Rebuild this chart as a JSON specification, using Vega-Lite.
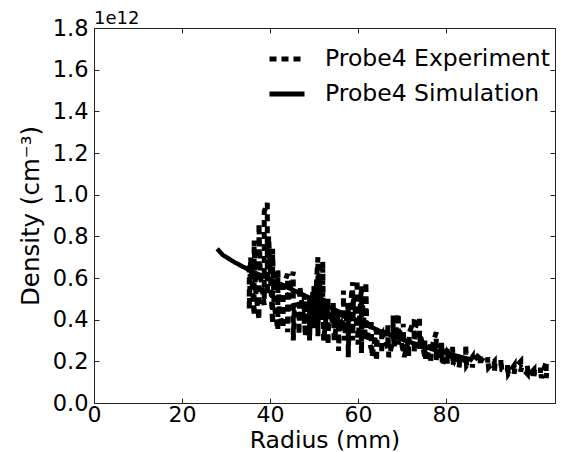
{
  "$schema": "https://vega.github.io/schema/vega-lite/v6.json",
  "width": 461,
  "height": 375,
  "autosize": {"type": "none"},
  "padding": {"left": 94, "top": 28, "right": 8, "bottom": 49},
  "background": "white",
  "config": {
    "font": "DejaVu Sans",
    "view": {"stroke": "#222", "strokeWidth": 1},
    "axis": {
      "grid": false,
      "domain": false,
      "tickColor": "#222",
      "labelColor": "black",
      "titleColor": "black",
      "labelFontSize": 22.5,
      "titleFontSize": 24.5,
      "titleFontWeight": "normal",
      "labelFlush": false,
      "labelOverlap": false
    }
  },
  "title": {"text": "1e12", "anchor": "start", "frame": "group", "fontSize": 18, "fontWeight": "normal", "offset": -11, "color": "black"},
  "datasets": {
    "exp": [
      {"radius": 35.3, "density": 0.66}, {"radius": 35.3, "density": 0.45}, {"radius": 35.6, "density": 0.70},
      {"radius": 36.4, "density": 0.42}, {"radius": 36.4, "density": 0.78}, {"radius": 36.7, "density": 0.55},
      {"radius": 37.5, "density": 0.40}, {"radius": 37.5, "density": 0.86}, {"radius": 37.8, "density": 0.62},
      {"radius": 38.7, "density": 0.47}, {"radius": 38.7, "density": 0.92},
      {"radius": 39.4, "density": 0.96}, {"radius": 39.4, "density": 0.52}, {"radius": 39.7, "density": 0.80},
      {"radius": 40.6, "density": 0.38}, {"radius": 40.6, "density": 0.74}, {"radius": 40.9, "density": 0.48},
      {"radius": 41.8, "density": 0.35}, {"radius": 41.8, "density": 0.64}, {"radius": 42.1, "density": 0.44},
      {"radius": 43.0, "density": 0.36}, {"radius": 43.0, "density": 0.56},
      {"radius": 44.0, "density": 0.62}, {"radius": 44.0, "density": 0.34}, {"radius": 44.3, "density": 0.52},
      {"radius": 45.3, "density": 0.63}, {"radius": 45.3, "density": 0.30}, {"radius": 45.6, "density": 0.48},
      {"radius": 46.6, "density": 0.42}, {"radius": 46.6, "density": 0.33}, {"radius": 46.8, "density": 0.56},
      {"radius": 47.8, "density": 0.38}, {"radius": 47.8, "density": 0.52}, {"radius": 48.0, "density": 0.32},
      {"radius": 49.0, "density": 0.50}, {"radius": 49.0, "density": 0.30}, {"radius": 49.2, "density": 0.46},
      {"radius": 50.0, "density": 0.56}, {"radius": 50.0, "density": 0.36},
      {"radius": 50.9, "density": 0.70}, {"radius": 50.9, "density": 0.32}, {"radius": 51.1, "density": 0.62},
      {"radius": 52.0, "density": 0.40}, {"radius": 52.0, "density": 0.68}, {"radius": 52.2, "density": 0.30},
      {"radius": 53.2, "density": 0.50}, {"radius": 53.2, "density": 0.28}, {"radius": 53.4, "density": 0.44},
      {"radius": 54.4, "density": 0.38}, {"radius": 54.4, "density": 0.48}, {"radius": 54.6, "density": 0.30},
      {"radius": 55.6, "density": 0.44}, {"radius": 55.6, "density": 0.25}, {"radius": 55.8, "density": 0.40},
      {"radius": 56.7, "density": 0.38}, {"radius": 56.7, "density": 0.54}, {"radius": 56.9, "density": 0.30},
      {"radius": 57.8, "density": 0.48}, {"radius": 57.8, "density": 0.22}, {"radius": 58.0, "density": 0.40},
      {"radius": 58.8, "density": 0.58}, {"radius": 58.8, "density": 0.30}, {"radius": 59.0, "density": 0.52},
      {"radius": 59.8, "density": 0.36}, {"radius": 59.8, "density": 0.59}, {"radius": 60.0, "density": 0.28},
      {"radius": 60.8, "density": 0.56}, {"radius": 60.8, "density": 0.24}, {"radius": 61.0, "density": 0.48},
      {"radius": 61.8, "density": 0.30}, {"radius": 61.8, "density": 0.58}, {"radius": 62.0, "density": 0.36},
      {"radius": 63.0, "density": 0.26}, {"radius": 63.0, "density": 0.40}, {"radius": 63.2, "density": 0.22},
      {"radius": 64.2, "density": 0.35}, {"radius": 64.2, "density": 0.20}, {"radius": 64.4, "density": 0.30},
      {"radius": 65.4, "density": 0.33}, {"radius": 65.4, "density": 0.24}, {"radius": 65.6, "density": 0.36},
      {"radius": 66.8, "density": 0.26}, {"radius": 66.8, "density": 0.38}, {"radius": 67.0, "density": 0.22},
      {"radius": 68.0, "density": 0.30}, {"radius": 68.0, "density": 0.42}, {"radius": 68.2, "density": 0.26},
      {"radius": 69.2, "density": 0.43}, {"radius": 69.2, "density": 0.28}, {"radius": 69.4, "density": 0.36},
      {"radius": 70.3, "density": 0.24}, {"radius": 70.3, "density": 0.38}, {"radius": 70.5, "density": 0.22},
      {"radius": 71.5, "density": 0.30}, {"radius": 71.5, "density": 0.22}, {"radius": 71.7, "density": 0.34},
      {"radius": 72.8, "density": 0.40}, {"radius": 72.8, "density": 0.24}, {"radius": 73.0, "density": 0.36},
      {"radius": 74.0, "density": 0.41}, {"radius": 74.0, "density": 0.26}, {"radius": 74.2, "density": 0.33},
      {"radius": 75.2, "density": 0.22}, {"radius": 75.2, "density": 0.30}, {"radius": 75.4, "density": 0.20},
      {"radius": 76.5, "density": 0.28}, {"radius": 76.5, "density": 0.19}, {"radius": 76.7, "density": 0.26},
      {"radius": 77.8, "density": 0.34}, {"radius": 77.8, "density": 0.20}, {"radius": 78.0, "density": 0.28},
      {"radius": 79.0, "density": 0.22}, {"radius": 79.0, "density": 0.30}, {"radius": 79.2, "density": 0.18},
      {"radius": 80.3, "density": 0.26}, {"radius": 80.3, "density": 0.19}, {"radius": 80.5, "density": 0.24},
      {"radius": 81.5, "density": 0.21}, {"radius": 81.5, "density": 0.27}, {"radius": 81.7, "density": 0.18},
      {"radius": 83.0, "density": 0.24}, {"radius": 83.0, "density": 0.17}, {"radius": 83.2, "density": 0.22},
      {"radius": 84.5, "density": 0.20}, {"radius": 84.5, "density": 0.28}, {"radius": 84.7, "density": 0.18},
      {"radius": 86.0, "density": 0.22}, {"radius": 86.0, "density": 0.17}, {"radius": 86.2, "density": 0.20},
      {"radius": 87.8, "density": 0.24}, {"radius": 87.8, "density": 0.18}, {"radius": 88.0, "density": 0.21},
      {"radius": 89.5, "density": 0.19}, {"radius": 89.5, "density": 0.22}, {"radius": 89.7, "density": 0.17},
      {"radius": 91.0, "density": 0.20}, {"radius": 91.0, "density": 0.15}, {"radius": 91.2, "density": 0.19},
      {"radius": 92.5, "density": 0.18}, {"radius": 92.5, "density": 0.21}, {"radius": 92.7, "density": 0.16},
      {"radius": 94.0, "density": 0.15}, {"radius": 94.0, "density": 0.19}, {"radius": 94.2, "density": 0.14},
      {"radius": 95.5, "density": 0.18}, {"radius": 95.5, "density": 0.14}, {"radius": 95.7, "density": 0.17},
      {"radius": 97.0, "density": 0.20}, {"radius": 97.0, "density": 0.15}, {"radius": 97.2, "density": 0.17},
      {"radius": 98.5, "density": 0.14}, {"radius": 98.5, "density": 0.18}, {"radius": 98.7, "density": 0.13},
      {"radius": 100.0, "density": 0.16}, {"radius": 100.0, "density": 0.13}, {"radius": 100.2, "density": 0.15},
      {"radius": 101.5, "density": 0.14}, {"radius": 101.5, "density": 0.17}, {"radius": 101.7, "density": 0.12},
      {"radius": 102.8, "density": 0.20}, {"radius": 102.8, "density": 0.12}, {"radius": 103.0, "density": 0.16}
    ],
    "sim": [
      {"radius": 28.0, "density": 0.74}, {"radius": 29.3, "density": 0.71}, {"radius": 32.0, "density": 0.675},
      {"radius": 36.0, "density": 0.63}, {"radius": 40.0, "density": 0.595}, {"radius": 45.0, "density": 0.545},
      {"radius": 50.0, "density": 0.495}, {"radius": 55.0, "density": 0.445}, {"radius": 60.0, "density": 0.395},
      {"radius": 65.0, "density": 0.345}, {"radius": 70.0, "density": 0.305}, {"radius": 75.0, "density": 0.27},
      {"radius": 80.0, "density": 0.24}, {"radius": 85.5, "density": 0.21}
    ]
  },
  "layer": [
    {
      "data": {"name": "exp"},
      "mark": {"type": "line", "color": "black", "strokeWidth": 5, "strokeCap": "butt"},
      "encoding": {
        "x": {"field": "radius", "type": "quantitative", "scale": {"domain": [0, 104.8], "nice": false, "zero": false},
              "axis": {"orient": "bottom", "values": [0, 20, 40, 60, 80], "title": "Radius (mm)", "tickSize": -5, "labelPadding": 6, "labelFontSize": 22, "titleFontSize": 23.5, "titlePadding": 3}},
        "y": {"field": "density", "type": "quantitative", "scale": {"domain": [0, 1.8], "nice": false},
              "axis": {"orient": "left", "values": [0, 0.2, 0.4, 0.6, 0.8, 1.0, 1.2, 1.4, 1.6, 1.8], "format": ".1f", "title": "Density (cm⁻³)", "tickSize": -5, "labelPadding": 11, "titlePadding": 9}},
        "strokeDash": {"datum": "Probe4 Experiment", "type": "nominal",
                       "scale": {"domain": ["Probe4 Experiment", "Probe4 Simulation"], "range": [[7, 5], [1, 0]]},
                       "legend": {"orient": "none", "legendX": 171, "legendY": 9, "title": null, "labelFontSize": 23.5, "labelColor": "black", "labelLimit": 0,
                                  "symbolType": "stroke", "symbolSize": 1225, "symbolStrokeWidth": 5, "symbolStrokeColor": "black",
                                  "labelOffset": 18, "rowPadding": 3, "padding": 2}},
        "order": {"value": null}
      }
    },
    {
      "data": {"name": "sim"},
      "mark": {"type": "line", "color": "black", "strokeWidth": 4.5},
      "encoding": {
        "x": {"field": "radius", "type": "quantitative",
              "axis": {"orient": "top", "values": [0, 20, 40, 60, 80], "labels": false, "title": null, "tickSize": -5}},
        "y": {"field": "density", "type": "quantitative",
              "axis": {"orient": "right", "values": [0, 0.2, 0.4, 0.6, 0.8, 1.0, 1.2, 1.4, 1.6, 1.8], "labels": false, "title": null, "tickSize": -5}},
        "strokeDash": {"datum": "Probe4 Simulation", "type": "nominal"}
      }
    }
  ],
  "resolve": {"axis": {"x": "independent", "y": "independent"}}
}
